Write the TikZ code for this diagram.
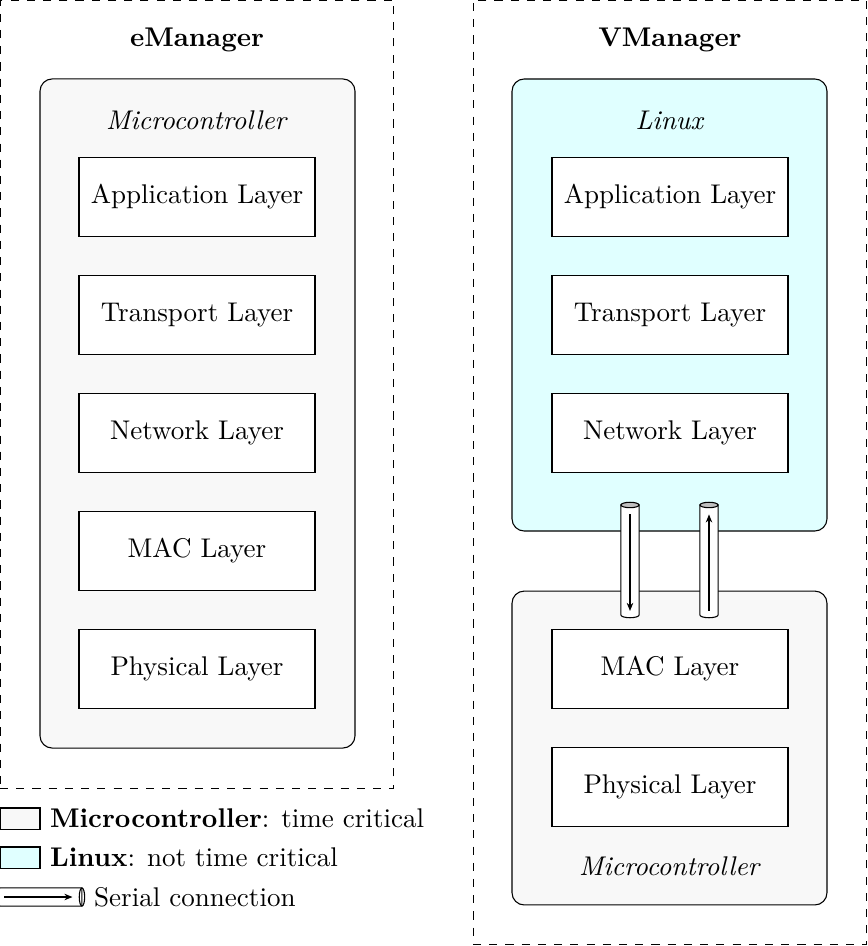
\documentclass[tikz,border=0pt]{standalone}
\usepackage{amsmath}
\usetikzlibrary{arrows.meta,positioning}

\definecolor{mcuFill}{RGB}{248,248,248}
\definecolor{linuxFill}{RGB}{224,255,255}

\tikzset{
  layer/.style={draw,fill=white,minimum width=87.3pt,minimum height=29.2pt},
  host/.style={draw,dashed,inner sep=0pt},
  platform/.style={draw,rounded corners=4.5pt,inner sep=0pt},
  mcu/.style={platform,fill=mcuFill},
  linux/.style={platform,fill=linuxFill},
  pipe/.style={inner sep=0pt,outer sep=0pt,minimum width=6.7pt,minimum height=40.7pt},
  flow/.style={-{Stealth[length=3pt,width=2.4pt]},thin},
  key/.style={draw,minimum width=14.8pt,minimum height=7.8pt,inner sep=0pt}
}

\begin{document}
\begin{tikzpicture}[x=0.013cm,y=-0.013cm]
\useasboundingbox (0,0) rectangle (867,946);

% the two hosts
\node[host,minimum width=145.7pt,minimum height=291.5pt] (eHost) at (197,394) {};
\node[host,minimum width=145.7pt,minimum height=349.5pt] (vHost) at (670,472.5) {};
\node at (197,40) {\textbf{eManager}};
\node at (670,40) {\textbf{VManager}};

% eManager: everything on the microcontroller
\node[mcu,minimum width=116.5pt,minimum height=247.5pt] (eMcu) at (197.5,413.5) {};
\node at (197,120) {\textit{Microcontroller}};
\foreach \name/\txt [count=\i] in {App/Application Layer,Trans/Transport Layer,
    Net/Network Layer,Mac/MAC Layer,Phy/Physical Layer}
{
    \pgfmathsetmacro{\ypos}{197+118*(\i-1)}
    \node[layer] (e\name) at (197,\ypos) {\txt};
}

% VManager: upper layers on Linux, lower ones on the microcontroller
\node[linux,minimum width=116.5pt,minimum height=167.2pt] (vLinux) at (669.5,305) {};
\node at (670,120) {\textit{Linux}};
\node[mcu,minimum width=116.5pt,minimum height=116.1pt] (vMcu) at (669.5,748) {};
\node at (670,866) {\textit{Microcontroller}};
\foreach \name/\txt [count=\i] in {App/Application Layer,Trans/Transport Layer,
    Net/Network Layer}
{
    \pgfmathsetmacro{\ypos}{197+118*(\i-1)}
    \node[layer] (v\name) at (670,\ypos) {\txt};
}
\node[layer] (vMac) at (670,669) {MAC Layer};
\node[layer] (vPhy) at (670,787) {Physical Layer};

% serial link between Linux and microcontroller
\node[pipe] (down) at (630,560) {};
\node[pipe] (up) at (709,560) {};
\foreach \p in {down,up}
{
    \draw[fill=white] (\p.north west) -- (\p.south west)
        arc[start angle=180,end angle=360,x radius=3.35pt,y radius=1pt]
        -- (\p.north east) -- cycle;
    \draw[fill=black!25] (\p.north) ellipse[x radius=3.35pt,y radius=1pt];
}
\draw[flow,shorten <=3.5pt,shorten >=1.5pt] (down.north) -- (down.south);
\draw[flow,shorten <=1.5pt,shorten >=3.5pt] (up.south) -- (up.north);

% legend
\node[key,fill=mcuFill] (keyMcu) at (20,818.5) {};
\node[right=0pt of keyMcu] {\textbf{Microcontroller}: time critical};
\node[key,fill=linuxFill] (keyLinux) at (20,857.5) {};
\node[right=0pt of keyLinux] {\textbf{Linux}: not time critical};
\node[inner sep=0pt,outer sep=0pt,minimum width=30.3pt,minimum height=6.7pt] (keySerial) at (41,897) {};
\draw[fill=white] (keySerial.north east) -- (keySerial.north west)
    arc[start angle=90,end angle=270,x radius=1pt,y radius=3.35pt]
    -- (keySerial.south east) -- cycle;
\draw (keySerial.east) ellipse[x radius=1pt,y radius=3.35pt];
\draw[flow,shorten <=1.5pt,shorten >=3.5pt] (keySerial.west) -- (keySerial.east);
\node[right=1pt of keySerial] {Serial connection};
\end{tikzpicture}
\end{document}
